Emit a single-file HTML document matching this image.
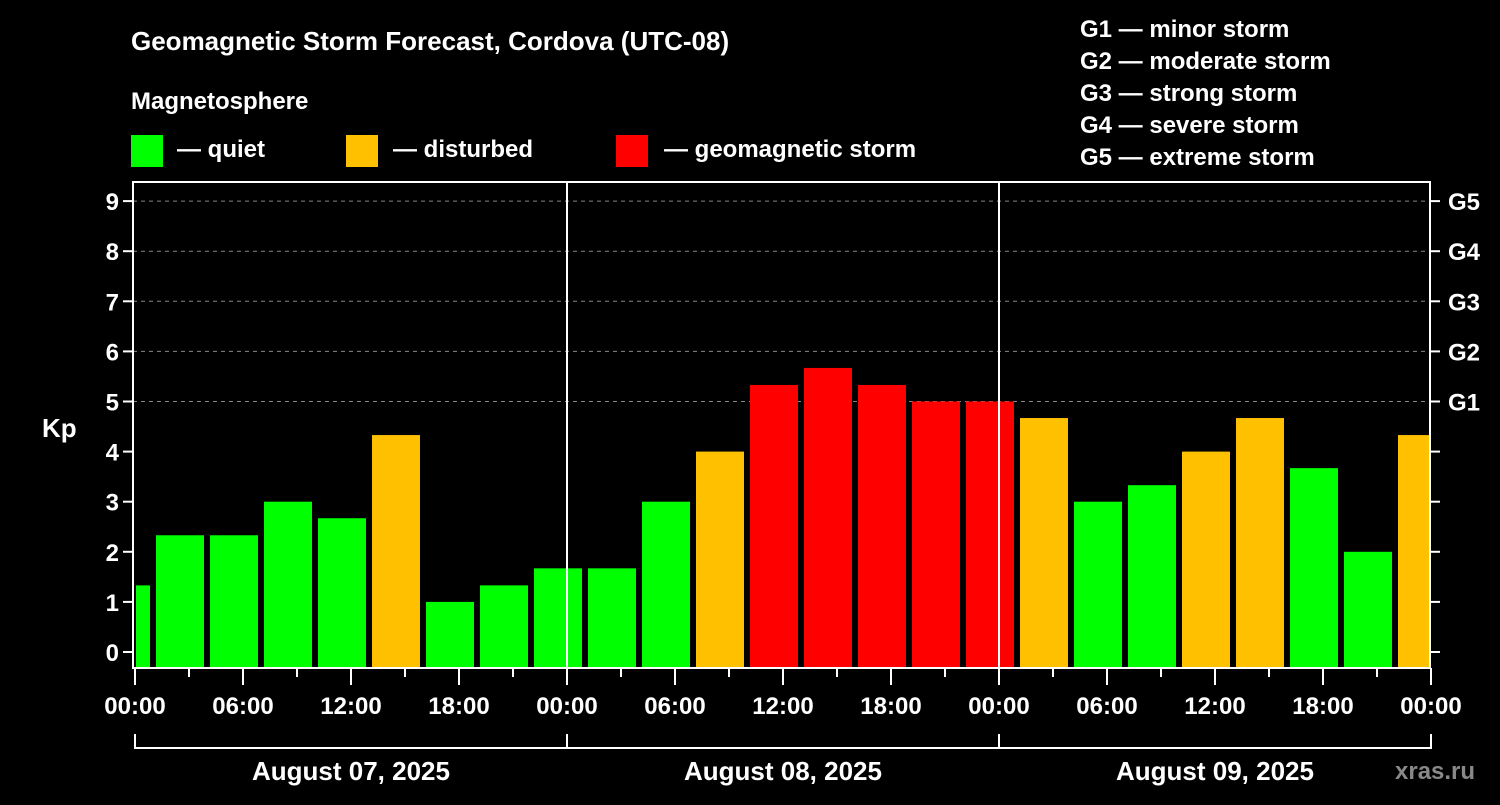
<!DOCTYPE html>
<html><head><meta charset="utf-8"><style>
body{margin:0;background:#000;width:1500px;height:800px;overflow:hidden}
svg text{font-family:"Liberation Sans",sans-serif;font-weight:bold;fill:#fff}
</style></head><body>
<svg id="chart" width="1500" height="800" xmlns="http://www.w3.org/2000/svg">
<rect width="1500" height="800" fill="#000"/>
<text x="131" y="50" font-size="26">Geomagnetic Storm Forecast, Cordova (UTC-08)</text>
<text x="131" y="109" font-size="24">Magnetosphere</text>
<g><rect x="131" y="135" width="32" height="32" fill="#00ff00"/><text x="177" y="157" font-size="24">— quiet</text></g>
<g><rect x="346" y="135" width="32" height="32" fill="#ffc000"/><text x="393" y="157" font-size="24">— disturbed</text></g>
<g><rect x="616" y="135" width="32" height="32" fill="#ff0000"/><text x="664" y="157" font-size="24">— geomagnetic storm</text></g>
<g font-size="24">
<text x="1080" y="37">G1 — minor storm</text>
<text x="1080" y="69">G2 — moderate storm</text>
<text x="1080" y="101">G3 — strong storm</text>
<text x="1080" y="133">G4 — severe storm</text>
<text x="1080" y="165">G5 — extreme storm</text>
</g>
<text x="42" y="437" font-size="26">Kp</text>
<g id="grid"></g><g id="bars"></g><g id="axes"></g>
<text x="1395" y="779" font-size="24" fill="#888" style="fill:#888">xras.ru</text>
</svg>
<script>
const kpValues=[1.33,2.33,2.33,3,2.67,4.33,1,1.33,1.67,1.67,3,4,5.33,5.67,5.33,5,5,4.67,3,3.33,4,4.67,3.67,2,4.33];
const binStartHours=[-2,1,4,7,10,13,16,19,22,25,28,31,34,37,40,43,46,49,52,55,58,61,64,67,70];
const yTicks=[0,1,2,3,4,5,6,7,8,9];
const gLabels=["G1","G2","G3","G4","G5"];
const xTickLabels=["00:00","06:00","12:00","18:00","00:00","06:00","12:00","18:00","00:00","06:00","12:00","18:00","00:00"];
const dayLabels=["August 07, 2025","August 08, 2025","August 09, 2025"];
const NS="http://www.w3.org/2000/svg";
const L=133,R=1430,T=182,B=668,X0=135;
const xs=h=>X0+h*18.0;
const ys=k=>652-k*50.1;
function mk(tag,attrs,parent,txt){const e=document.createElementNS(NS,tag);for(const k in attrs)e.setAttribute(k,attrs[k]);if(txt!==undefined)e.textContent=txt;parent.appendChild(e);return e;}
const grid=document.getElementById('grid'),bars=document.getElementById('bars'),axes=document.getElementById('axes');
for(let k=5;k<=9;k++){const l=mk('line',{x1:L,x2:R,y1:ys(k),y2:ys(k),stroke:'#888','stroke-dasharray':'4,4','stroke-width':1},grid);

}
kpValues.forEach((v,i)=>{
 const c=(binStartHours[i]+1.5);let x1=xs(c)-24,x2=xs(c)+24;x1=Math.max(x1,L+3);x2=Math.min(x2,R);
 const col=v>=5?'#ff0000':(v>=4?'#ffc000':'#00ff00');
 const r=mk('rect',{x:x1,y:ys(v),width:x2-x1,height:B-ys(v),fill:col},bars);
 
 
});
// day separators
[24,48].forEach(h=>{const l=mk('line',{x1:xs(h),x2:xs(h),y1:T,y2:B,stroke:'#fff','stroke-width':2},axes);

});
const frame=mk('rect',{x:L,y:T,width:R-L,height:B-T,fill:'none',stroke:'#fff','stroke-width':2},axes);


yTicks.forEach(k=>{
 mk('line',{x1:L-10,x2:L,y1:ys(k),y2:ys(k),stroke:'#fff','stroke-width':2},axes);
 mk('line',{x1:R,x2:R+10,y1:ys(k),y2:ys(k),stroke:'#fff','stroke-width':2},axes);
 const t=mk('text',{x:L-14,y:ys(k)+9,'font-size':24,'text-anchor':'end'},axes,String(k));
 
 
});
gLabels.forEach((g,i)=>{const t=mk('text',{x:1448,y:ys(5+i)+9,'font-size':24},axes,g);

});
for(let h=0;h<=72;h+=3){const major=h%6===0;mk('line',{x1:xs(h),x2:xs(h),y1:B,y2:B+(major?17:9),stroke:'#fff','stroke-width':2},axes);}
xTickLabels.forEach((s,i)=>{const t=mk('text',{x:xs(i*6),y:714,'font-size':24,'text-anchor':'middle'},axes,s);

});
mk('line',{x1:xs(0),x2:xs(72),y1:748,y2:748,stroke:'#fff','stroke-width':2},axes);
[0,24,48,72].forEach(h=>mk('line',{x1:xs(h),x2:xs(h),y1:734,y2:749,stroke:'#fff','stroke-width':2},axes));
dayLabels.forEach((d,i)=>{const t=mk('text',{x:xs(i*24+12),y:780,'font-size':26,'text-anchor':'middle'},axes,d);

});
</script>
</body></html>
